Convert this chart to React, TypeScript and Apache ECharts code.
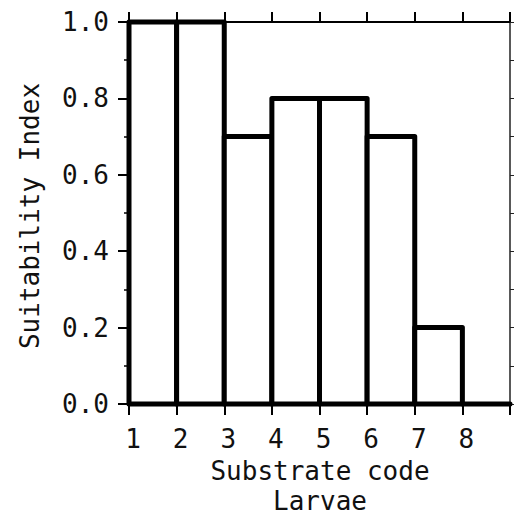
import React, { useEffect, useRef } from "react";
import * as echarts from "echarts";

const codes = [1, 2, 3, 4, 5, 6, 7, 8];
const values = [1.0, 1.0, 0.7, 0.8, 0.8, 0.7, 0.2, 0.0];
const xTickLabels = ["1", "2", "3", "4", "5", "6", "7", "8"];
const yTickLabels = ["0.0", "0.2", "0.4", "0.6", "0.8", "1.0"];
const xTitle = "Substrate code";
const xSubTitle = "Larvae";
const yTitle = "Suitability Index";

const FONT = "DejaVu Sans Mono";

export default function App() {
  const ref = useRef<HTMLDivElement>(null);
  useEffect(() => {
    document.body.style.margin = "0";
    const chart = echarts.init(ref.current!, null, { renderer: "svg" });
    const gridLeft = 129, gridRight = 17, gridTop = 22, gridBottom = 114;
    const option: any = {
      animation: false,
      backgroundColor: "#fff",
      grid: { left: gridLeft, right: gridRight, top: gridTop, bottom: gridBottom, containLabel: false },
      xAxis: [
        {
          type: "value", position: "bottom", min: 1, max: 9, interval: 1,
          axisLine: { show: true, onZero: false, lineStyle: { color: "#000", width: 2 } },
          axisTick: { show: true, inside: false, length: 11, lineStyle: { color: "#000", width: 2 } },
          splitLine: { show: false },
          axisLabel: {
            margin: 22, fontFamily: FONT, fontSize: 26, color: "#111", padding: [0, 0, 0, 8],
            formatter: (v: number) => {
              const i = codes.indexOf(Math.round(v));
              return i >= 0 ? xTickLabels[i] : "";
            },
          },
        },
        {
          type: "value", position: "top", min: 1, max: 9, interval: 1,
          axisLine: { show: true, onZero: false, lineStyle: { color: "#000", width: 2 } },
          axisTick: { show: true, inside: false, length: 10, lineStyle: { color: "#000", width: 2 } },
          splitLine: { show: false },
          axisLabel: { show: false },
        },
      ],
      yAxis: [
        {
          type: "value", position: "left", min: 0, max: 1, interval: 0.2,
          axisLine: { show: true, onZero: false, lineStyle: { color: "#000", width: 2 } },
          axisTick: { show: true, inside: false, length: 11, lineStyle: { color: "#000", width: 2 } },
          minorTick: { show: true, splitNumber: 2, length: 5, lineStyle: { color: "#000", width: 1.5 } },
          splitLine: { show: false },
          axisLabel: {
            margin: 20, fontFamily: FONT, fontSize: 26, color: "#111",
            formatter: (v: number) => {
              const i = Math.round(v * 5);
              return yTickLabels[i] ?? "";
            },
          },
        },
        {
          type: "value", position: "right", min: 0, max: 1, interval: 0.1,
          axisLine: { show: true, onZero: false, lineStyle: { color: "#222", width: 1.5 } },
          axisTick: { show: true, inside: false, length: 4, lineStyle: { color: "#222", width: 1 } },
          splitLine: { show: false },
          axisLabel: { show: false },
        },
      ],
      series: [
        {
          type: "custom",
          xAxisIndex: 0,
          yAxisIndex: 0,
          clip: false,
          encode: { x: [0, 1], y: 2 },
          data: codes.map((c, i) => [c, c + 1, values[i]]),
          renderItem: (params: any, api: any) => {
            const x0 = api.value(0), x1 = api.value(1), v = api.value(2);
            const p0 = api.coord([x0, v]);
            const p1 = api.coord([x1, 0]);
            return {
              type: "rect",
              shape: { x: p0[0], y: p0[1], width: p1[0] - p0[0], height: p1[1] - p0[1] },
              style: { fill: "#fff", stroke: "#000", lineWidth: 5, lineJoin: "round" },
            };
          },
        },
      ],
      graphic: [
        {
          type: "text", x: 320, y: 471,
          style: { text: xTitle, font: `26px '${FONT}'`, fill: "#111", align: "center", verticalAlign: "middle" },
        },
        {
          type: "text", x: 320, y: 501,
          style: { text: xSubTitle, font: `26px '${FONT}'`, fill: "#111", align: "center", verticalAlign: "middle" },
        },
        {
          type: "text", x: 30, y: 216, rotation: Math.PI / 2,
          style: { text: yTitle, font: `26px '${FONT}'`, fill: "#111", align: "center", verticalAlign: "middle" },
        },
      ],
    };
    chart.setOption(option);
    return () => chart.dispose();
  }, []);
  return <div ref={ref} style={{ position: "fixed", left: 0, top: 0, width: 527, height: 518 }} />;
}
